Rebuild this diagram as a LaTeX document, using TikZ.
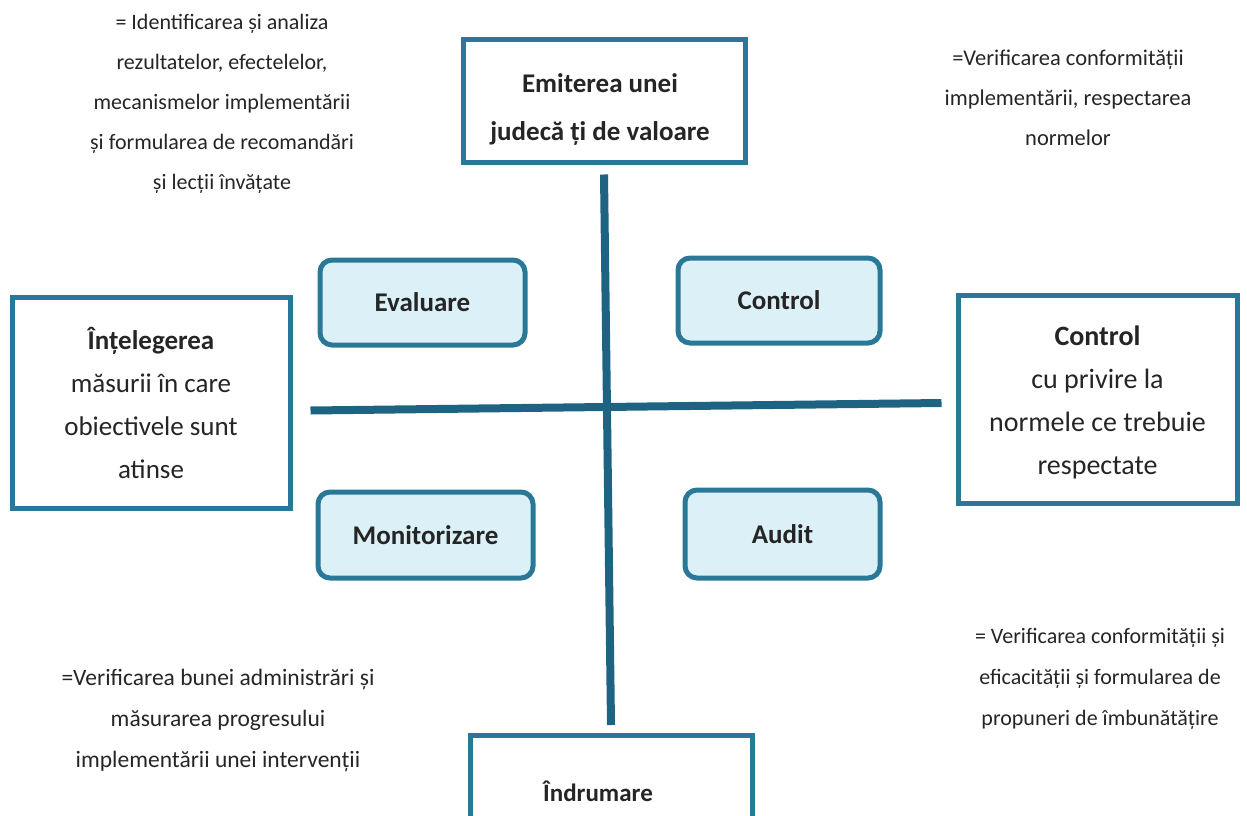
\documentclass[tikz,border=0pt]{standalone}
\usepackage{fontspec}
\setmainfont{Carlito}
\usetikzlibrary{calc}
\definecolor{teal1}{HTML}{2A7898}
\definecolor{tealline}{HTML}{1E6482}
\definecolor{lightfill}{HTML}{DCF0F8}
\definecolor{txt}{HTML}{252525}
\tikzset{
  bigbox/.style={draw=teal1, line width=5pt, fill=white, minimum width=#1, inner sep=0pt},
  rbox/.style={draw=teal1, line width=5pt, fill=lightfill, rounded corners=12pt, inner sep=0pt, font=\fontsize{27}{30}\selectfont\bfseries, text=txt},
  note/.style={align=center, text=txt, font=\fontsize{22.5}{40}\selectfont},
  axis/.style={draw=tealline, line width=8pt}
}
\begin{document}
\begin{tikzpicture}[x=1pt,y=-1pt]
\useasboundingbox (0,0) rectangle (1247,816);
% big boxes
\node[bigbox=282pt, minimum height=122pt, text=txt] (top) at (604,101) {};
\node[align=center, text=txt, font=\fontsize{27}{48}\selectfont\bfseries] (toplbl) at (600,109) {Emiterea unei\\judecă ți de valoare};
\node[bigbox=278pt, minimum height=211pt, align=center, text=txt, font=\fontsize{27}{43}\selectfont] (left) at (151,402.5) {\textbf{Înțelegerea}\\măsurii în care\\obiectivele sunt\\atinse};
\node[bigbox=279pt, minimum height=208pt, text=txt] (right) at (1097.5,399) {};
\node[align=center, text=txt, font=\fontsize{28}{43}\selectfont] (rightlbl) at (1097.5,402) {\textbf{Control}\\cu privire la\\normele ce trebuie\\respectate};
\node[bigbox=282pt, minimum height=110pt, anchor=north, text=txt] (bot) at (611,733) {};
\node[text=txt, font=\fontsize{25}{28}\selectfont\bfseries] (botlbl) at (598,791) {Îndrumare};
% axes
\draw[axis] ($(top.south)+(0,10)$) -- ($(bot.north)+(0,-8)$);
\draw[axis] ($(left.east)+(18,8)$) -- ($(right.west)+(-14,4)$);
% rounded boxes
\node[rbox, minimum width=205pt, minimum height=85pt] (eval) at (422.5,302.5) {Evaluare};
\node[rbox, minimum width=202pt, minimum height=85pt] (ctrl) at (779,300.5) {Control};
\node[rbox, minimum width=215pt, minimum height=86pt] (mon) at (425.5,535) {Monitorizare};
\node[rbox, minimum width=195pt, minimum height=88pt] (aud) at (782.5,534) {Audit};
% notes
\node[note, font=\fontsize{22}{40}\selectfont] (n1) at (222,104) {= Identificarea și analiza\\rezultatelor, efectelelor,\\mecanismelor implementării\\și formularea de recomandări\\și lecții învățate};
\node[note] (n2) at (1068,98) {=Verificarea conformității\\implementării, respectarea\\normelor};
\node[note, font=\fontsize{23.5}{41}\selectfont] (n3) at (218,720) {=Verificarea bunei administrări și\\măsurarea progresului\\implementării unei intervenții};
\node[note, font=\fontsize{22}{41}\selectfont] (n4) at (1100,679) {= Verificarea conformității și\\eficacității și formularea de\\propuneri de îmbunătățire};
\end{tikzpicture}
\end{document}
